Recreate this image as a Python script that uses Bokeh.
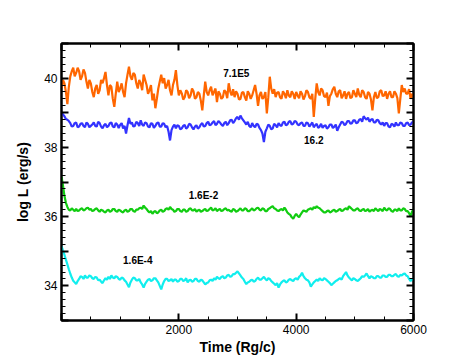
from bokeh.plotting import figure
from bokeh.models import FixedTicker, LinearAxis, Label
from bokeh.embed import file_html
from bokeh.resources import INLINE

# time samples (Rg/c)
time = list(range(0, 6001, 25))

# log L (erg/s), Mdot = 7.1E5
logL_71E5 = [
    39.70, 39.95, 39.85, 39.60, 39.25, 39.75, 40.05, 40.20, 40.30, 40.05,
    40.15, 40.30, 40.20, 39.95, 40.05, 40.25, 40.15, 39.90, 39.70, 39.95,
    39.85, 39.60, 39.45, 39.70, 39.80, 39.55, 39.65, 39.95, 39.85, 40.00,
    40.18, 39.80, 39.50, 39.80, 39.75, 39.40, 39.17, 39.55, 39.90, 39.60,
    39.70, 39.85, 39.60, 39.45, 39.85, 40.10, 40.33, 40.05, 39.95, 40.15,
    40.10, 39.85, 39.70, 39.95, 39.85, 39.65, 40.10, 39.95, 39.80, 39.55,
    39.65, 39.80, 39.36, 39.55, 39.13, 39.40, 39.70, 39.90, 40.10, 39.85,
    40.00, 39.70, 39.80, 39.95, 39.65, 39.50, 39.80, 39.95, 40.23, 39.80,
    39.50, 39.65, 39.56, 39.38, 39.45, 39.65, 39.60, 39.42, 39.50, 39.70,
    39.62, 39.40, 39.45, 39.60, 39.55, 39.35, 39.07, 39.50, 39.90, 39.60,
    39.50, 39.65, 39.75, 39.50, 39.60, 39.70, 39.31, 39.62, 39.55, 39.40,
    39.45, 39.65, 39.60, 39.42, 39.85, 39.62, 39.50, 39.68, 39.45, 39.62,
    39.55, 39.38, 39.40, 39.58, 39.60, 39.45, 39.35, 39.62, 39.55, 39.40,
    39.50, 39.65, 39.80, 39.55, 39.20, 39.50, 39.60, 39.40, 39.45, 39.60,
    38.98, 39.45, 40.04, 39.70, 39.55, 39.68, 39.45, 39.58, 39.60, 39.45,
    39.40, 39.62, 39.55, 39.42, 39.65, 39.50, 39.45, 39.62, 39.55, 39.40,
    39.60, 39.50, 39.42, 39.62, 39.55, 39.38, 39.48, 39.65, 39.60, 39.45,
    39.40, 39.55, 38.88, 39.40, 39.85, 39.60, 39.50, 39.70, 39.65, 39.48,
    39.45, 39.58, 39.20, 39.48, 39.55, 39.68, 39.75, 39.55, 39.45, 39.62,
    39.65, 39.42, 39.50, 39.62, 39.40, 39.55, 39.60, 39.42, 39.45, 39.65,
    39.55, 39.45, 39.70, 39.52, 39.45, 39.65, 39.60, 39.45, 39.40, 39.60,
    39.55, 39.38, 39.07, 39.45, 39.60, 39.42, 39.45, 39.62, 39.65, 39.48,
    39.50, 39.62, 39.40, 39.55, 39.62, 39.45, 39.45, 39.62, 39.55, 39.42,
    38.98, 39.40, 39.80, 39.60, 39.70, 39.55, 39.55, 39.68, 39.40, 39.55,
    39.45,
]

# Mdot = 16.2
logL_16p2 = [
    39.00, 38.95, 38.90, 38.82, 38.80, 38.76, 38.70, 38.60, 38.62, 38.70,
    38.72, 38.58, 38.60, 38.68, 38.70, 38.62, 38.58, 38.72, 38.68, 38.58,
    38.62, 38.66, 38.72, 38.62, 38.60, 38.74, 38.70, 38.60, 38.55, 38.64,
    38.68, 38.58, 38.62, 38.70, 38.72, 38.60, 38.58, 38.70, 38.66, 38.56,
    38.65, 38.70, 38.55, 38.62, 38.40, 38.64, 38.85, 38.68, 38.72, 38.60,
    38.62, 38.74, 38.70, 38.62, 38.78, 38.66, 38.62, 38.72, 38.70, 38.60,
    38.58, 38.70, 38.68, 38.56, 38.62, 38.70, 38.72, 38.60, 38.60, 38.70,
    38.68, 38.58, 38.62, 38.45, 38.20, 38.50, 38.60, 38.66, 38.55, 38.64,
    38.62, 38.52, 38.55, 38.62, 38.65, 38.54, 38.58, 38.68, 38.66, 38.58,
    38.52, 38.60, 38.64, 38.54, 38.58, 38.66, 38.70, 38.60, 38.62, 38.70,
    38.74, 38.64, 38.66, 38.72, 38.76, 38.64, 38.68, 38.76, 38.72, 38.66,
    38.62, 38.70, 38.74, 38.64, 38.70, 38.78, 38.80, 38.70, 38.76, 38.84,
    38.88, 38.80, 38.92, 38.84, 38.78, 38.72, 38.66, 38.74, 38.62, 38.58,
    38.70, 38.62, 38.58, 38.68, 38.66, 38.56, 38.50, 38.40, 38.15, 38.45,
    38.55, 38.66, 38.62, 38.52, 38.55, 38.68, 38.64, 38.58, 38.70, 38.64,
    38.62, 38.72, 38.74, 38.64, 38.66, 38.74, 38.76, 38.66, 38.68, 38.76,
    38.74, 38.66, 38.64, 38.70, 38.72, 38.62, 38.62, 38.72, 38.70, 38.60,
    38.66, 38.72, 38.58, 38.64, 38.68, 38.56, 38.60, 38.68, 38.56, 38.62,
    38.64, 38.54, 38.58, 38.66, 38.66, 38.56, 38.60, 38.66, 38.48, 38.58,
    38.66, 38.74, 38.72, 38.64, 38.68, 38.76, 38.76, 38.68, 38.70, 38.78,
    38.78, 38.70, 38.72, 38.80, 38.82, 38.74, 38.90, 38.84, 38.80, 38.86,
    38.74, 38.80, 38.82, 38.72, 38.72, 38.80, 38.78, 38.70, 38.66, 38.72,
    38.62, 38.70, 38.70, 38.60, 38.58, 38.68, 38.66, 38.60, 38.72, 38.64,
    38.64, 38.72, 38.70, 38.62, 38.62, 38.70, 38.72, 38.64, 38.66, 38.72,
    38.74,
]

# Mdot = 1.6E-2
logL_16Em2 = [
    37.15, 36.90, 36.60, 36.40, 36.28, 36.20, 36.18, 36.24, 36.20, 36.16,
    36.22, 36.16, 36.18, 36.22, 36.24, 36.18, 36.20, 36.24, 36.26, 36.20,
    36.22, 36.16, 36.18, 36.22, 36.24, 36.18, 36.14, 36.20, 36.18, 36.14,
    36.12, 36.18, 36.20, 36.14, 36.16, 36.22, 36.22, 36.16, 36.14, 36.20,
    36.18, 36.14, 36.12, 36.18, 36.20, 36.14, 36.16, 36.22, 36.22, 36.16,
    36.14, 36.20, 36.20, 36.24, 36.26, 36.22, 36.32, 36.26, 36.22, 36.16,
    36.12, 36.16, 36.08, 36.14, 36.16, 36.10, 36.12, 36.18, 36.20, 36.14,
    36.16, 36.22, 36.24, 36.20, 36.28, 36.22, 36.20, 36.14, 36.16, 36.22,
    36.22, 36.16, 36.14, 36.20, 36.20, 36.14, 36.16, 36.22, 36.24, 36.18,
    36.18, 36.22, 36.14, 36.18, 36.20, 36.14, 36.16, 36.20, 36.22, 36.16,
    36.18, 36.22, 36.26, 36.18, 36.20, 36.24, 36.16, 36.20, 36.22, 36.16,
    36.18, 36.22, 36.24, 36.18, 36.20, 36.16, 36.14, 36.22, 36.20, 36.14,
    36.16, 36.20, 36.24, 36.18, 36.18, 36.24, 36.22, 36.16, 36.16, 36.20,
    36.24, 36.18, 36.20, 36.24, 36.26, 36.20, 36.18, 36.24, 36.22, 36.16,
    36.16, 36.22, 36.24, 36.28, 36.30, 36.24, 36.22, 36.18, 36.16, 36.20,
    36.22, 36.18, 36.26, 36.20, 36.12, 36.08, 36.05, 35.98, 35.94, 36.02,
    36.08, 36.02, 35.98, 36.06, 36.12, 36.18, 36.16, 36.14, 36.20, 36.22,
    36.24, 36.20, 36.28, 36.24, 36.30, 36.26, 36.24, 36.20, 36.16, 36.12,
    36.12, 36.16, 36.18, 36.12, 36.14, 36.18, 36.20, 36.14, 36.16, 36.20,
    36.22, 36.16, 36.18, 36.22, 36.24, 36.20, 36.30, 36.26, 36.22, 36.18,
    36.18, 36.22, 36.24, 36.18, 36.16, 36.20, 36.22, 36.16, 36.18, 36.22,
    36.14, 36.18, 36.20, 36.16, 36.24, 36.20, 36.16, 36.22, 36.20, 36.16,
    36.26, 36.20, 36.18, 36.24, 36.22, 36.16, 36.14, 36.20, 36.20, 36.16,
    36.24, 36.18, 36.18, 36.24, 36.22, 36.16, 36.16, 36.10, 36.02, 36.14,
    36.22,
]

# Mdot = 1.6E-4
logL_16Em4 = [
    35.15, 35.02, 34.90, 34.76, 34.62, 34.48, 34.35, 34.24, 34.15, 34.10,
    34.05, 34.14, 34.20, 34.28, 34.26, 34.20, 34.30, 34.24, 34.24, 34.30,
    34.28, 34.22, 34.20, 34.26, 34.24, 34.16, 34.18, 34.12, 34.08, 34.16,
    34.22, 34.18, 34.26, 34.20, 34.30, 34.24, 34.22, 34.28, 34.26, 34.20,
    34.18, 34.24, 34.22, 34.16, 34.12, 34.04, 33.96, 34.10, 34.18, 34.24,
    34.22, 34.16, 34.16, 34.20, 34.10, 34.04, 33.95, 34.06, 34.12, 34.18,
    34.20, 34.14, 34.16, 34.22, 34.22, 34.16, 34.10, 34.00, 33.90, 34.04,
    34.14, 34.20, 34.20, 34.14, 34.16, 34.20, 34.12, 34.18, 34.18, 34.12,
    34.14, 34.20, 34.20, 34.14, 34.16, 34.22, 34.10, 34.16, 34.18, 34.12,
    34.14, 34.20, 34.20, 34.14, 34.12, 34.18, 34.16, 34.10, 34.04, 34.08,
    34.10, 34.16, 34.18, 34.14, 34.22, 34.18, 34.26, 34.22, 34.20, 34.26,
    34.28, 34.22, 34.24, 34.30, 34.32, 34.26, 34.28, 34.34, 34.34, 34.38,
    34.42, 34.36, 34.30, 34.24, 34.20, 34.12, 34.05, 34.10, 34.12, 34.16,
    34.18, 34.12, 34.14, 34.20, 34.24, 34.18, 34.18, 34.22, 34.26, 34.20,
    34.16, 34.22, 34.20, 34.14, 34.10, 34.06, 34.02, 34.08, 33.95, 34.04,
    34.10, 34.14, 34.16, 34.10, 34.12, 34.18, 34.20, 34.16, 34.14, 34.20,
    34.22, 34.18, 34.26, 34.30, 34.38, 34.28, 34.22, 34.18, 34.16, 34.10,
    33.98, 34.04, 34.10, 34.14, 34.18, 34.14, 34.22, 34.18, 34.16, 34.22,
    34.20, 34.16, 34.12, 34.08, 34.02, 34.06, 34.10, 34.14, 34.16, 34.20,
    34.22, 34.18, 34.28, 34.34, 34.40, 34.30, 34.24, 34.20, 34.16, 34.22,
    34.20, 34.16, 34.14, 34.18, 34.22, 34.28, 34.26, 34.30, 34.36, 34.28,
    34.22, 34.28, 34.26, 34.22, 34.22, 34.28, 34.28, 34.24, 34.24, 34.30,
    34.30, 34.26, 34.26, 34.32, 34.32, 34.28, 34.28, 34.32, 34.34, 34.28,
    34.26, 34.32, 34.30, 34.34, 34.36, 34.30, 34.28, 34.20, 34.14, 34.18,
    34.22,
]

series_names = ["7.1E5", "16.2", "1.6E-2", "1.6E-4"]
series_values = [logL_71E5, logL_16p2, logL_16Em2, logL_16Em4]
series_colors = ["#FF6600", "#3333FF", "#11CC11", "#11EEEE"]
# label anchor (time, logL) for each series name
label_pos = [(2980, 40.14), (4300, 38.2), (2420, 36.6), (1300, 34.72)]

x_major = [0, 2000, 4000, 6000]
x_minor = list(range(0, 6001, 500))
y_major = [33, 34, 35, 36, 37, 38, 39, 40, 41]
y_minor = [round(33 + 0.2 * i, 1) for i in range(41)]
y_labels = {33: "", 35: "", 37: "", 39: "", 41: ""}
x_labels = {0: ""}

for v in series_values:
    assert len(v) == len(time), len(v)

p = figure(
    frame_width=352, frame_height=277,
    width=453, height=352,
    x_range=(0, 6000), y_range=(33, 41),
    output_backend="svg", toolbar_location=None,
    min_border_left=61, min_border_right=40,
    min_border_top=43, min_border_bottom=32,
    x_axis_label="Time (Rg/c)", y_axis_label="log L (erg/s)",
)
p.xgrid.visible = False
p.ygrid.visible = False
p.outline_line_color = "black"
p.outline_line_width = 2
p.background_fill_color = "white"
p.border_fill_color = "white"

for vals, col in zip(series_values, series_colors):
    p.line(time, vals, line_color=col, line_width=2.2)

for name, (tx, ty) in zip(series_names, label_pos):
    p.add_layout(Label(x=tx, y=ty, text=name, text_align="center",
                       text_baseline="middle", text_font="Liberation Sans",
                       text_font_style="bold", text_font_size="10px",
                       text_color="black"))

xt = FixedTicker(ticks=x_major, minor_ticks=x_minor)
yt = FixedTicker(ticks=y_major, minor_ticks=y_minor)


def style(ax):
    ax.axis_line_color = "black"
    ax.axis_line_width = 2
    ax.major_tick_in = 7
    ax.major_tick_out = 0
    ax.minor_tick_in = 4
    ax.minor_tick_out = 0
    ax.major_tick_line_width = 2
    ax.minor_tick_line_width = 1
    ax.major_tick_line_color = "black"
    ax.minor_tick_line_color = "black"
    ax.major_label_text_font = "Liberation Sans"
    ax.major_label_text_font_size = "12px"
    ax.major_label_text_color = "black"
    ax.axis_label_text_font = "Liberation Sans"
    ax.axis_label_text_font_style = "bold"
    ax.axis_label_text_font_size = "14px"
    ax.axis_label_text_color = "black"


p.xaxis.ticker = xt
p.yaxis.ticker = yt
style(p.xaxis[0])
style(p.yaxis[0])
p.xaxis.major_label_overrides = x_labels
p.yaxis.major_label_overrides = y_labels
p.xaxis.major_label_standoff = 4
p.yaxis.major_label_standoff = 4
p.xaxis.axis_label_standoff = 2
p.yaxis.axis_label_standoff = 10

top = LinearAxis(ticker=xt)
style(top)
top.major_label_overrides = {t: "" for t in x_major}
top.major_label_standoff = 0
p.add_layout(top, "above")
right = LinearAxis(ticker=yt)
style(right)
right.major_label_overrides = {t: "" for t in y_major}
right.major_label_standoff = 0
p.add_layout(right, "right")

open("out.html", "w").write(file_html(p, INLINE))
